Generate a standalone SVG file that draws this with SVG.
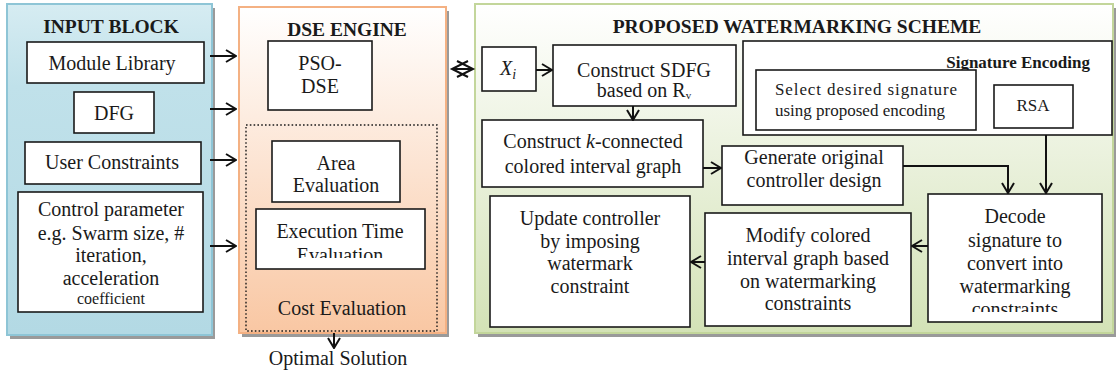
<svg xmlns="http://www.w3.org/2000/svg" width="1117" height="374" viewBox="0 0 1117 374">
  <defs>
    <linearGradient id="gBlue" x1="0" y1="0" x2="0" y2="1">
      <stop offset="0" stop-color="#d6ecf2"/>
      <stop offset="0.25" stop-color="#c0e1ea"/>
      <stop offset="1" stop-color="#b3d9e4"/>
    </linearGradient>
    <linearGradient id="gOrange" x1="0" y1="0" x2="0" y2="1">
      <stop offset="0" stop-color="#ffffff"/>
      <stop offset="1" stop-color="#f9c7a3"/>
    </linearGradient>
    <linearGradient id="gGreen" x1="0" y1="0" x2="0" y2="1">
      <stop offset="0" stop-color="#ffffff"/>
      <stop offset="1" stop-color="#d3e2b6"/>
    </linearGradient>
    <marker id="arr" viewBox="0 0 12 14" refX="11" refY="7" markerWidth="12" markerHeight="14" markerUnits="userSpaceOnUse" orient="auto">
      <path d="M1,1 L11,7 L1,13" fill="none" stroke="#111" stroke-width="2"/>
    </marker>
    <clipPath id="clipExec"><rect x="256" y="209" width="169" height="49"/></clipPath>
    <clipPath id="clipDecode"><rect x="928" y="194" width="174" height="118"/></clipPath>
  </defs>
  <style>
    text { font-family: "Liberation Serif", "Times New Roman", serif; }
    .panel-shadow { fill: #9a9a9a; }
    .box { fill: #ffffff; stroke: #1a1a1a; stroke-width: 1.6; }
    .lbl { font-size: 20px; fill: #1a1a1a; text-anchor: middle; }
    .sm { font-size: 17px; }
    .title { font-size: 19.5px; font-weight: bold; fill: #1a1a1a; text-anchor: middle; }
    .conn { fill: none; stroke: #111; stroke-width: 2; }
  </style>

  <!-- input block panel -->
  <g id="input-block">
    <rect class="panel-shadow" x="10" y="8" width="205" height="331"/>
    <rect x="7" y="4" width="205" height="331" fill="url(#gBlue)" stroke="#8ec5d6" stroke-width="2"/>
    <text class="title" x="111" y="33">INPUT BLOCK</text>
  </g>
  <g id="module-library">
    <rect class="box" x="27" y="42" width="177" height="41"/>
    <text class="lbl" x="112" y="70">Module Library</text>
  </g>
  <g id="dfg">
    <rect class="box" x="74" y="92" width="80" height="41"/>
    <text class="lbl" x="114" y="120">DFG</text>
  </g>
  <g id="user-constraints">
    <rect class="box" x="25" y="142" width="176" height="42"/>
    <text class="lbl" x="112" y="169">User Constraints</text>
  </g>
  <g id="control-parameter">
    <rect class="box" x="18" y="192" width="185" height="120"/>
    <text class="lbl" x="111" y="216">Control parameter</text>
    <text class="lbl" x="111" y="240">e.g. Swarm size, #</text>
    <text class="lbl" x="111" y="262">iteration,</text>
    <text class="lbl" x="111" y="285">acceleration</text>
    <text class="lbl" x="111" y="304" style="font-size:16px">coefficient</text>
  </g>

  <!-- DSE engine panel -->
  <g id="dse-engine">
    <rect class="panel-shadow" x="242" y="11" width="207" height="326"/>
    <rect x="239" y="7" width="207" height="326" fill="url(#gOrange)" stroke="#f4b183" stroke-width="2"/>
    <text class="title" x="347" y="36">DSE ENGINE</text>
  </g>
  <g id="pso-dse">
    <rect class="box" x="268" y="41" width="104" height="69"/>
    <text class="lbl" x="320" y="70">PSO-</text>
    <text class="lbl" x="320" y="93">DSE</text>
  </g>
  <g id="cost-evaluation">
    <rect x="246" y="125" width="191" height="206" fill="none" stroke="#1a1a1a" stroke-width="1.4" stroke-dasharray="1.6 2.2"/>
    <text class="lbl" x="342" y="315">Cost Evaluation</text>
  </g>
  <g id="area-evaluation">
    <rect class="box" x="272" y="141" width="128" height="61"/>
    <text class="lbl" x="336" y="170">Area</text>
    <text class="lbl" x="336" y="192">Evaluation</text>
  </g>
  <g id="execution-time-evaluation">
    <rect class="box" x="256" y="209" width="169" height="60"/>
    <text class="lbl" x="340" y="238">Execution Time</text>
    <text class="lbl" x="340" y="262" clip-path="url(#clipExec)">Evaluation</text>
  </g>
  <g id="optimal-solution">
    <text class="lbl" x="338" y="365">Optimal Solution</text>
  </g>

  <!-- proposed watermarking scheme panel -->
  <g id="watermarking-scheme">
    <rect class="panel-shadow" x="478" y="8" width="638" height="329"/>
    <rect x="475" y="4" width="638" height="329" fill="url(#gGreen)" stroke="#c3d69b" stroke-width="2"/>
    <text class="title" x="797" y="33">PROPOSED WATERMARKING SCHEME</text>
  </g>
  <g id="xi">
    <rect class="box" x="482" y="47" width="54" height="44"/>
    <text class="lbl" x="508" y="75"><tspan font-style="italic">X</tspan><tspan font-style="italic" font-size="14" dy="4">i</tspan></text>
  </g>
  <g id="construct-sdfg">
    <rect class="box" x="553" y="45" width="183" height="61"/>
    <text class="lbl" x="644" y="77">Construct SDFG</text>
    <text class="lbl" x="644" y="97">based on R<tspan font-size="11" dy="2">v</tspan></text>
  </g>
  <g id="construct-interval-graph">
    <rect class="box" x="482" y="120" width="221" height="67"/>
    <text class="lbl" x="593" y="148">Construct <tspan font-style="italic">k</tspan>-connected</text>
    <text class="lbl" x="593" y="173">colored interval graph</text>
  </g>
  <g id="generate-controller">
    <rect class="box" x="722" y="146" width="181" height="59"/>
    <text class="lbl" x="814" y="164">Generate original</text>
    <text class="lbl" x="814" y="187">controller design</text>
  </g>
  <g id="signature-encoding">
    <rect class="box" x="743" y="41" width="369" height="94"/>
    <text class="title" x="1090" y="68" style="font-size:17px; text-anchor:end">Signature Encoding</text>
  </g>
  <g id="select-signature">
    <rect class="box" x="756" y="70" width="220" height="60"/>
    <text class="lbl sm" x="775" y="95" style="text-anchor:start" textLength="182" lengthAdjust="spacing">Select desired signature</text>
    <text class="lbl sm" x="775" y="116" style="text-anchor:start">using proposed encoding</text>
  </g>
  <g id="rsa">
    <rect class="box" x="994" y="85" width="79" height="43"/>
    <text class="lbl sm" x="1033" y="111">RSA</text>
  </g>
  <g id="decode-signature">
    <rect class="box" x="928" y="194" width="174" height="128"/>
    <text class="lbl" x="1015" y="223">Decode</text>
    <text class="lbl" x="1015" y="247">signature to</text>
    <text class="lbl" x="1015" y="270">convert into</text>
    <text class="lbl" x="1015" y="293">watermarking</text>
    <text class="lbl" x="1015" y="316" clip-path="url(#clipDecode)">constraints</text>
  </g>
  <g id="modify-interval-graph">
    <rect class="box" x="705" y="213" width="206" height="113"/>
    <text class="lbl" x="808" y="242">Modify colored</text>
    <text class="lbl" x="808" y="265">interval graph based</text>
    <text class="lbl" x="808" y="288">on watermarking</text>
    <text class="lbl" x="808" y="310">constraints</text>
  </g>
  <g id="update-controller">
    <rect class="box" x="490" y="196" width="200" height="131"/>
    <text class="lbl" x="590" y="225">Update controller</text>
    <text class="lbl" x="590" y="248">by imposing</text>
    <text class="lbl" x="590" y="270">watermark</text>
    <text class="lbl" x="590" y="293">constraint</text>
  </g>

  <!-- connectors -->
  <g id="connectors">
    <path class="conn" d="M210,56 H236" marker-end="url(#arr)"/>
    <path class="conn" d="M210,109 H236" marker-end="url(#arr)"/>
    <path class="conn" d="M210,160 H236" marker-end="url(#arr)"/>
    <path class="conn" d="M210,246 H236" marker-end="url(#arr)"/>
    <!-- two-way link between the engine and the scheme -->
    <path class="conn" d="M452,69 H473 M468,61 L452,69 L468,77 M457,61 L473,69 L457,77"/>
    <path class="conn" d="M536,70 H552" marker-end="url(#arr)"/>
    <path class="conn" d="M633,106 V120" marker-end="url(#arr)"/>
    <path class="conn" d="M703,168 H721" marker-end="url(#arr)"/>
    <path class="conn" d="M903,166 H1008 V193" marker-end="url(#arr)"/>
    <path class="conn" d="M1046,135 V193" marker-end="url(#arr)"/>
    <path class="conn" d="M928,246 H912" marker-end="url(#arr)"/>
    <path class="conn" d="M705,262 H691" marker-end="url(#arr)"/>
    <path class="conn" d="M334,333 V348" marker-end="url(#arr)"/>
  </g>
</svg>
